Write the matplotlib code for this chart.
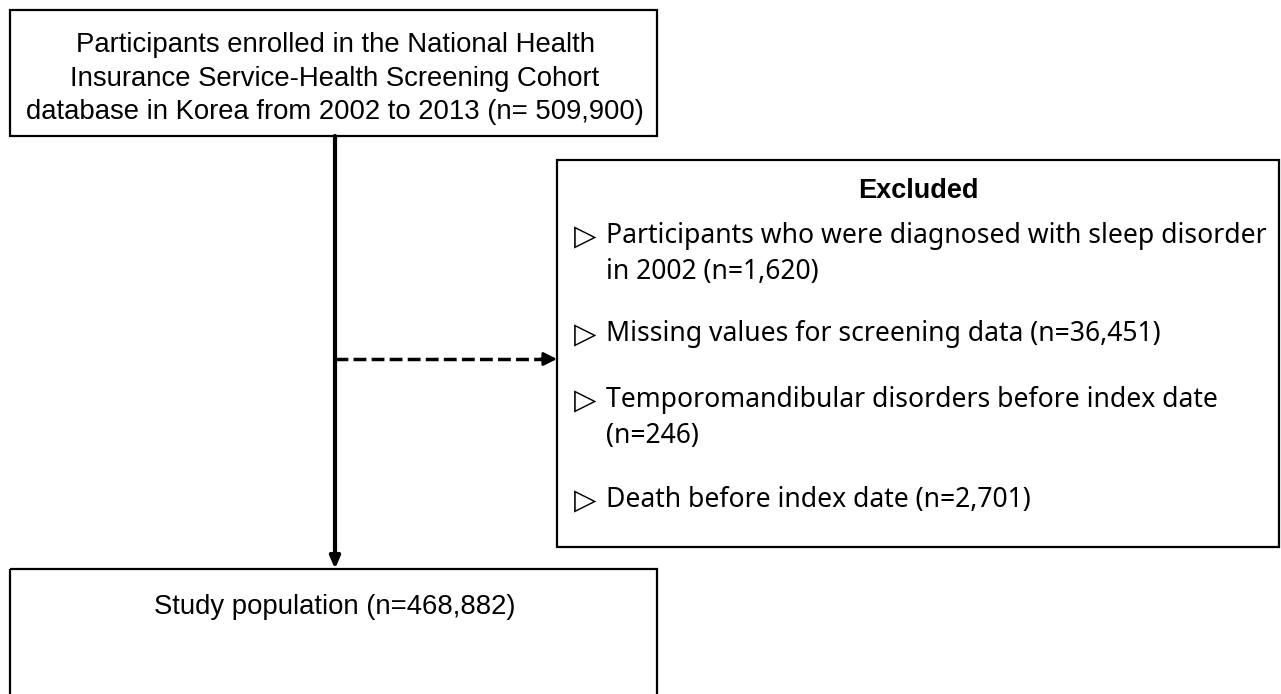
import matplotlib
matplotlib.use("Agg")
import matplotlib.pyplot as plt
from matplotlib.patches import Rectangle

# ---- data ----
top_label = ["Participants enrolled in the National Health",
             "Insurance Service-Health Screening Cohort",
             "database in Korea from 2002 to 2013 (n= 509,900)"]
excluded_title = "Excluded"
excluded_items = [
    ["Participants who were diagnosed with sleep disorder", "in 2002 (n=1,620)"],
    ["Missing values for screening data (n=36,451)"],
    ["Temporomandibular disorders before index date", "(n=246)"],
    ["Death before index date (n=2,701)"],
]
bottom_label = "Study population (n=468,882)"

W, H = 1281, 694
fig = plt.figure(figsize=(W / 100, H / 100), dpi=100)
ax = fig.add_axes([0, 0, 1, 1])
ax.set_xlim(0, W)
ax.set_ylim(H, 0)
ax.axis("off")

lw = 1.6
# top box
ax.add_patch(Rectangle((10, 10), 647, 126, fill=False, lw=lw, ec="black"))
for i, line in enumerate(top_label):
    ax.text(335, 45 + i * 33.5, line, ha="center", va="center", fontsize=19.8,
            family="Liberation Sans")

# right box
ax.add_patch(Rectangle((557, 160), 722, 387, fill=False, lw=lw, ec="black"))
ax.text(918, 191, excluded_title, ha="center", va="center", fontsize=19.5,
        fontweight="bold", family="Liberation Sans")

ys = [[236, 272], [334], [400, 436], [500]]
for item, yy in zip(excluded_items, ys):
    ax.text(574, yy[0] + 1, "\u25b7", ha="left", va="center", fontsize=21,
            family=["DejaVu Sans"])
    for line, y in zip(item, yy):
        ax.text(606, y, line, ha="left", va="center", fontsize=19.1,
                family=["Noto Sans", "DejaVu Sans"])

# bottom box
ax.add_patch(Rectangle((10, 569), 647, 140, fill=False, lw=lw, ec="black", clip_on=False))
ax.text(335, 607, bottom_label, ha="center", va="center", fontsize=19.8,
        family="Liberation Sans")

# vertical arrow
ax.annotate("", xy=(335, 569), xytext=(335, 136),
            arrowprops=dict(arrowstyle="-|>,head_length=0.7,head_width=0.3",
                            lw=3, color="black", shrinkA=0, shrinkB=0))
# dashed arrow
ax.plot([335, 545], [359, 359], ls=(0, (3.7, 1.5)), lw=2.5, color="black")
ax.annotate("", xy=(557, 359), xytext=(540, 359),
            arrowprops=dict(arrowstyle="-|>,head_length=0.8,head_width=0.4",
                            lw=2, color="black", shrinkA=0, shrinkB=0))

fig.savefig("out.png", dpi=100)
